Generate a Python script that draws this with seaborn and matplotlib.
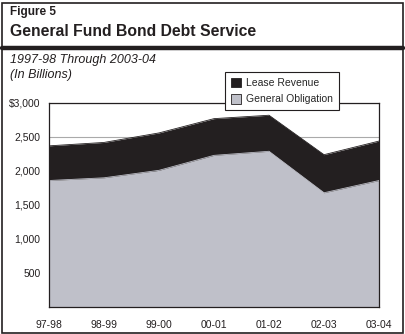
import matplotlib
matplotlib.use("Agg")
import matplotlib.pyplot as plt
from matplotlib.patches import Rectangle, Patch
from matplotlib.lines import Line2D
import seaborn as sns
import pandas as pd

years = ["97-98", "98-99", "99-00", "00-01", "01-02", "02-03", "03-04"]
general_obligation = [1860, 1900, 2010, 2230, 2290, 1680, 1860]
lease_revenue = [510, 520, 550, 540, 530, 560, 580]
y_ticks = [500, 1000, 1500, 2000, 2500, 3000]
y_labels = ["500", "1,000", "1,500", "2,000", "2,500", "$3,000"]

sns.set_theme(style="white")
plt.rcParams["font.family"] = ["Liberation Sans", "DejaVu Sans"]

GO_COLOR = "#bfc0c9"
LR_COLOR = "#231f20"

df = pd.DataFrame({
    "x": list(range(len(years))),
    "go": general_obligation,
    "total": [g + l for g, l in zip(general_obligation, lease_revenue)],
})

fig = plt.figure(figsize=(4.06, 3.34), dpi=100)
fig.patch.set_facecolor("white")

# frame
W, H = 406, 334
fig.add_artist(Rectangle((2.5 / W, 1.5 / H), 401 / W, 330 / H, transform=fig.transFigure,
                         fill=False, edgecolor="#231f20", linewidth=1.2))
fig.add_artist(Line2D([2.5 / W, 403.5 / W], [1 - 48 / H, 1 - 48 / H], transform=fig.transFigure,
                      color="#231f20", linewidth=3.2))
fig.text(10 / W, 1 - 12 / H, "Figure 5", fontsize=8.5, fontweight="bold", va="center", ha="left", color="#231f20")
fig.text(10 / W, 1 - 32 / H, "General Fund Bond Debt Service", fontsize=11.3, fontweight="bold",
         va="center", ha="left", color="#231f20")
fig.text(10 / W, 1 - 60 / H, "1997-98 Through 2003-04", fontsize=9, style="italic",
         va="center", ha="left", color="#231f20")
fig.text(10 / W, 1 - 75 / H, "(In Billions)", fontsize=9, style="italic",
         va="center", ha="left", color="#231f20")

ax = fig.add_axes([49 / W, 1 - 307 / H, 330 / W, 204 / H])
ax.set_facecolor("white")
for yv in y_ticks:
    ax.axhline(yv, color="#aaaaaa", linewidth=0.8, zorder=0)

ax.fill_between(df["x"], 0, df["go"], color=GO_COLOR, linewidth=0, zorder=2)
ax.fill_between(df["x"], df["go"], df["total"], color=LR_COLOR, linewidth=0, zorder=2)
sns.lineplot(data=df, x="x", y="total", ax=ax, color=LR_COLOR, linewidth=0.6, zorder=3)
sns.lineplot(data=df, x="x", y="go", ax=ax, color=GO_COLOR, linewidth=0.6, zorder=3)

ax.set_xlim(0, len(years) - 1)
ax.set_ylim(0, 3000)
ax.set_xticks(range(len(years)))
ax.set_xticklabels(years)
ax.set_yticks(y_ticks)
ax.set_yticklabels(y_labels)
ax.set_xlabel("")
ax.set_ylabel("")
for s in ax.spines.values():
    s.set_visible(True)
    s.set_color("#231f20")
    s.set_linewidth(0.9)
ax.spines["left"].set_zorder(4)
ax.tick_params(axis="both", which="both", direction="out", length=4, width=0.9,
               color="#231f20", labelsize=7.5, labelcolor="#231f20")
ax.tick_params(axis="x", pad=5)
ax.tick_params(axis="y", pad=2)

handles = [Patch(facecolor=LR_COLOR, edgecolor="#231f20", linewidth=0.6, label="Lease Revenue"),
           Patch(facecolor=GO_COLOR, edgecolor="#231f20", linewidth=0.6, label="General Obligation")]
leg = fig.legend(handles=handles, loc="upper left", bbox_to_anchor=(225 / W, 1 - 72 / H),
                 frameon=True, fontsize=7.5, handlelength=1.0, handleheight=1.0,
                 handletextpad=0.5, borderpad=0.55, labelspacing=0.6, fancybox=False,
                 borderaxespad=0)
leg.get_frame().set_edgecolor("#231f20")
leg.get_frame().set_linewidth(0.8)
leg.get_frame().set_alpha(1)
leg.set_zorder(10)

fig.savefig("out.png", dpi=100, facecolor="white")
